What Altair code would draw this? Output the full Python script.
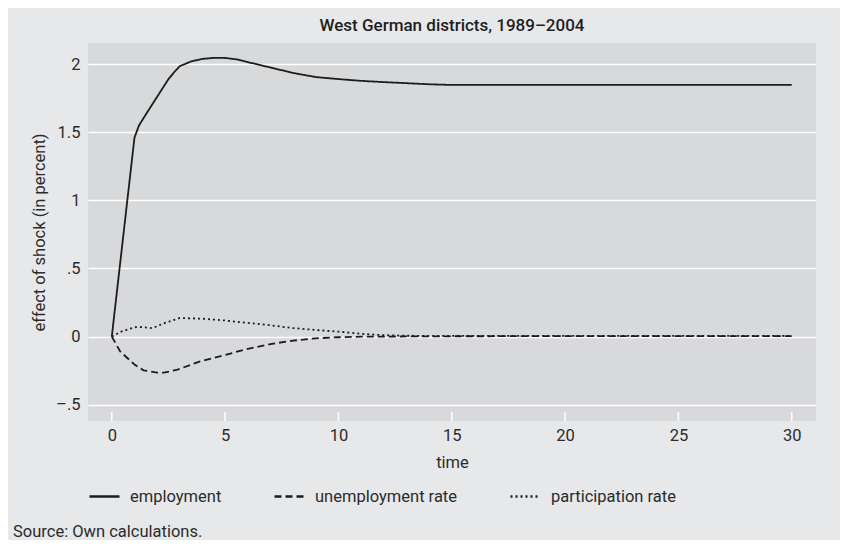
import altair as alt
import pandas as pd

# ---- data ----
series_names = ["employment", "unemployment rate", "participation rate"]

emp_t = [0, 0.5, 1.0, 1.2, 1.5, 2.0, 2.5, 2.8, 3.0, 3.5, 4.0, 4.5, 5.0, 5.5, 6.0, 7, 8, 9, 10, 11, 12, 13, 14, 15, 17, 20, 25, 30]
emp_v = [0, 0.73, 1.46, 1.55, 1.63, 1.76, 1.89, 1.95, 1.985, 2.02, 2.038, 2.046, 2.045, 2.035, 2.015, 1.975, 1.935, 1.905, 1.89, 1.877, 1.868, 1.86, 1.852, 1.847, 1.847, 1.847, 1.847, 1.847]

unemp_t = [0, 0.37, 1.0, 1.4, 2.0, 2.3, 2.9, 3.9, 5, 6, 7, 8, 9, 10, 11, 12, 15, 20, 25, 30]
unemp_v = [0, -0.11, -0.205, -0.248, -0.265, -0.265, -0.243, -0.182, -0.135, -0.09, -0.055, -0.03, -0.013, -0.005, -0.001, 0.0, 0.002, 0.003, 0.003, 0.003]

part_t = [0, 0.4, 1.0, 1.3, 1.8, 2.3, 3, 4, 5, 6, 7, 8, 9, 10, 11, 12, 13, 14, 20, 25, 30]
part_v = [0, 0.035, 0.068, 0.07, 0.062, 0.097, 0.136, 0.131, 0.118, 0.1, 0.083, 0.062, 0.048, 0.036, 0.02, 0.01, 0.006, 0.005, 0.005, 0.005, 0.005]

x_ticks = [0, 5, 10, 15, 20, 25, 30]
y_ticks = [-0.5, 0, 0.5, 1, 1.5, 2]
y_tick_labels = ["\u2013.5", "0", ".5", "1", "1.5", "2"]

title_text = "West German districts, 1989\u20132004"
source_text = "Source: Own calculations."

rows = []
for name, ts, vs in zip(series_names, [emp_t, unemp_t, part_t], [emp_v, unemp_v, part_v]):
    for t, v in zip(ts, vs):
        rows.append({"time": t, "value": v, "series": name})
df = pd.DataFrame(rows)

FONT = "Roboto"
FS = 16.5
TXT = "#2b2b2b"
W, H = 728, 378

x_scale = alt.Scale(domain=[-1.05, 31.07], nice=False, zero=False)
y_scale = alt.Scale(domain=[-0.62, 2.155], nice=False, zero=False)

label_expr = "[" + ",".join("'%s'" % s for s in y_tick_labels) + "][indexof([" + ",".join(str(v) for v in y_ticks) + "], datum.value)]"

lines = alt.Chart(df).mark_line(color="#1c1c1c", strokeWidth=1.8).encode(
    x=alt.X("time:Q", scale=x_scale,
            axis=alt.Axis(values=x_ticks, title="time", grid=False, domain=False, ticks=False,
                          labelPadding=6, titlePadding=11)),
    y=alt.Y("value:Q", scale=y_scale,
            axis=alt.Axis(values=y_ticks, title="effect of shock (in percent)", labelExpr=label_expr,
                          grid=True, gridColor="white", gridWidth=1.6, domain=False, ticks=False,
                          labelPadding=8, titlePadding=8)),
    strokeDash=alt.StrokeDash("series:N",
                              scale=alt.Scale(domain=series_names, range=[[1, 0], [7, 4], [2, 3]]),
                              legend=alt.Legend(title=None, orient="none", direction="horizontal",
                                                legendX=0, legendY=437, columnPadding=47,
                                                symbolType="stroke", symbolSize=900,
                                                symbolStrokeWidth=2.4, symbolStrokeColor="#1c1c1c",
                                                labelOffset=9, labelFontSize=FS, labelFont=FONT,
                                                labelColor=TXT)),
)

tick_df = pd.DataFrame({"t": x_ticks})
ticks = alt.Chart(tick_df).mark_rule(color="white", strokeWidth=1.5).encode(
    x=alt.X("t:Q", scale=x_scale),
    y=alt.value(H),
    y2=alt.value(H - 9),
)

source = alt.Chart(pd.DataFrame({"text": [source_text]})).mark_text(
    align="left", baseline="alphabetic", font=FONT, fontSize=FS, color=TXT
).encode(
    text="text:N",
    x=alt.value(-75),
    y=alt.value(494),
)

chart = alt.layer(ticks, lines, source).properties(
    width=W, height=H,
    title=alt.TitleParams(title_text, font=FONT, fontSize=17, fontWeight=500, color="#1e1e1e",
                          anchor="middle", offset=8),
    background="#e7e8ea",
    padding={"left": 80, "top": 35, "right": 24, "bottom": 119},
    autosize=alt.AutoSizeParams(type="none"),
).configure_view(fill="#d8d9db", stroke=None).configure_axis(
    labelFont=FONT, labelFontSize=FS, labelColor=TXT,
    titleFont=FONT, titleFontSize=FS, titleFontWeight="normal", titleColor=TXT,
)

chart.save("out.html", embed_options={"renderer": "svg", "actions": False})
